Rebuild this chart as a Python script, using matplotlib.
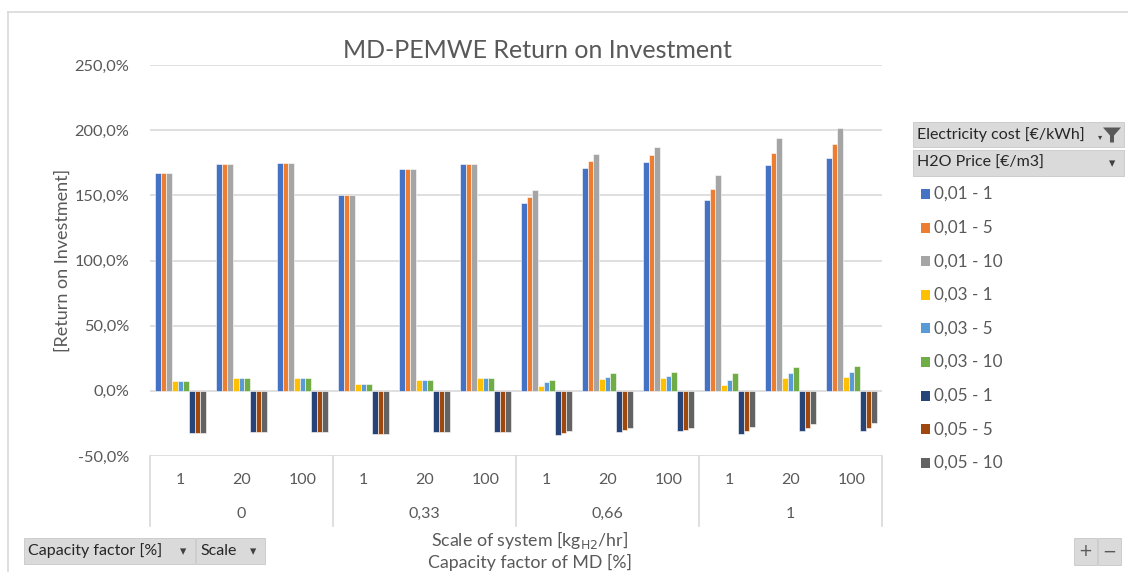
import matplotlib
matplotlib.use("Agg")
import matplotlib.pyplot as plt
from matplotlib.patches import Rectangle, Polygon
from matplotlib.lines import Line2D
import matplotlib.transforms as mtransforms
from matplotlib.ticker import FuncFormatter
import numpy as np

plt.rcParams['font.family'] = ['Lato', 'DejaVu Sans']

# categories: capacity factor of MD / scale of system
cap_factors = ['0', '0,33', '0,66', '1']
scales = ['1', '20', '100']

# legend: electricity cost - H2O price
series_names = ['0,01 - 1', '0,01 - 5', '0,01 - 10',
                '0,03 - 1', '0,03 - 5', '0,03 - 10',
                '0,05 - 1', '0,05 - 5', '0,05 - 10']

# return on investment [%], one value per (capacity factor, scale)
roi_001_1 = [167.5, 173.8, 174.8, 150.3, 170.2, 173.8, 144.5, 170.8, 175.9, 146.2, 173.3, 179.0]
roi_001_5 = [167.5, 173.8, 174.8, 150.3, 170.2, 173.8, 148.8, 176.1, 181.3, 154.9, 182.8, 189.4]
roi_001_10 = [167.5, 173.8, 174.8, 150.3, 170.2, 173.8, 153.9, 182.0, 187.1, 165.9, 194.3, 201.7]
roi_003_1 = [7.7, 9.5, 9.5, 4.9, 8.4, 9.5, 3.8, 9.2, 10.0, 4.6, 10.0, 10.7]
roi_003_5 = [7.7, 9.5, 9.5, 4.9, 8.4, 9.5, 6.4, 10.7, 11.5, 8.4, 13.6, 14.3]
roi_003_10 = [7.7, 9.5, 9.5, 4.9, 8.4, 9.5, 8.4, 13.6, 14.3, 13.6, 18.2, 19.2]
roi_005_1 = [-32.4, -31.9, -31.9, -33.2, -31.9, -31.9, -34.0, -31.9, -31.1, -33.2, -31.1, -31.1]
roi_005_5 = [-32.4, -31.9, -31.9, -33.2, -31.9, -31.9, -32.4, -30.4, -30.4, -31.1, -28.8, -28.8]
roi_005_10 = [-32.4, -31.9, -31.9, -33.2, -31.9, -31.9, -31.1, -28.8, -28.8, -28.1, -25.8, -25.0]

all_series = [roi_001_1, roi_001_5, roi_001_10, roi_003_1, roi_003_5, roi_003_10,
              roi_005_1, roi_005_5, roi_005_10]
colours = ['#4472C4', '#ED7D31', '#A5A5A5', '#FFC000', '#5B9BD5', '#70AD47',
           '#264478', '#9E480E', '#636363']

W, H = 1128, 572
txt = '#595959'
grid = '#d9d9d9'


def fx(p):
    return p / W


def fy(p):
    return 1 - p / H


fig = plt.figure(figsize=(W / 100, H / 100), dpi=100)
fig.patch.set_facecolor('white')

# chart border (top + left)
fig.add_artist(Line2D([fx(8), fx(W)], [fy(12), fy(12)], color='#d9d9d9', lw=1.2))
fig.add_artist(Line2D([fx(8), fx(8)], [fy(12), 0], color='#d9d9d9', lw=1.2))

ax_w = fx(882) - fx(150)
ax = fig.add_axes([fx(150), fy(456), ax_w, fy(65) - fy(456)])
x = np.arange(len(cap_factors) * len(scales))
w = 0.092
for j, (vals, c, name) in enumerate(zip(all_series, colours, series_names)):
    ax.bar(x + (j - 4) * w, vals, w, color=c, edgecolor='white', linewidth=0.4,
           label=name, zorder=3)

ax.set_xlim(-0.5, len(x) - 0.5)
ax.set_ylim(-50, 250)
ax.set_yticks(np.arange(-50, 251, 50))
ax.yaxis.set_major_formatter(FuncFormatter(lambda v, p: f'{v:.1f}%'.replace('.', ',')))
ax.yaxis.grid(True, color=grid, lw=1.2, zorder=0)
for s in ax.spines.values():
    s.set_visible(False)
ax.tick_params(axis='y', length=0, labelsize=11.8, labelcolor=txt, pad=15)
ax.set_xticks([])

# category table under the axis
trans = mtransforms.blended_transform_factory(ax.transData, ax.transAxes)
for i, lab in enumerate(scales * len(cap_factors)):
    ax.text(i, -0.062, lab, transform=trans, ha='center', va='center',
            fontsize=11.5, color=txt)
for g, lab in enumerate(cap_factors):
    ax.text(g * 3 + 1, -0.148, lab, transform=trans, ha='center', va='center',
            fontsize=11.5, color=txt)
for b in np.arange(-0.5, len(x), 3):
    ax.plot([b, b], [0, -0.178], transform=trans, color=grid, lw=1.2, clip_on=False)

ax.set_ylabel('[Return on Investment]', fontsize=13, color=txt)
ax.yaxis.set_label_coords((fx(71) - fx(150)) / ax_w, 0.5)

fig.text(fx(537), fy(50), 'MD-PEMWE Return on Investment', ha='center', va='center',
         fontsize=18, color=txt)
fig.text(fx(530), fy(540), 'Scale of system [kg$_{\\mathrm{H2}}$/hr]', ha='center',
         va='center', fontsize=12.8, color=txt)
fig.text(fx(530), fy(562), 'Capacity factor of MD [%]', ha='center', va='center',
         fontsize=12.8, color=txt)


def button(x0, y0, x1, y1, label, arrow=True, funnel=False):
    fig.add_artist(Rectangle((fx(x0), fy(y1)), fx(x1) - fx(x0), fy(y0) - fy(y1),
                             facecolor='#dadada', edgecolor='#c8c8c8', lw=0.6))
    fig.text(fx(x0 + 4), fy((y0 + y1) / 2), label, ha='left', va='center',
             fontsize=11.5, color='#262626')
    if arrow:
        fig.text(fx(x1 - 12), fy((y0 + y1) / 2 + 1), '▾', ha='center', va='center',
                 fontsize=9, color='#404040', family='DejaVu Sans')
    if funnel:
        cx, cy = x1 - 12, (y0 + y1) / 2
        fig.add_artist(Polygon([(fx(cx - 9), fy(cy - 7)), (fx(cx + 9), fy(cy - 7)),
                                (fx(cx + 2), fy(cy + 1)), (fx(cx + 2), fy(cy + 8)),
                                (fx(cx - 2), fy(cy + 8)), (fx(cx - 2), fy(cy + 1))],
                               closed=True, facecolor='#595959', edgecolor='none'))
        fig.text(fx(cx - 12), fy(cy + 2), '▾', ha='center', va='center',
                 fontsize=6, color='#404040', family='DejaVu Sans')


button(913, 122, 1124, 147, 'Electricity cost [€/kWh]', arrow=False, funnel=True)
button(913, 150, 1124, 176, 'H2O Price [€/m3]')
button(24, 538, 195, 564, 'Capacity factor [%]')
button(196, 538, 265, 564, 'Scale')

# + / - buttons
for x0, sym in [(1074, '+'), (1098, '−')]:
    fig.add_artist(Rectangle((fx(x0), fy(565)), fx(23), fy(538) - fy(565),
                             facecolor='#dadada', edgecolor='#c8c8c8', lw=0.6))
    fig.text(fx(x0 + 11.5), fy(551.5), sym, ha='center', va='center', fontsize=12,
             color='#595959', family='DejaVu Sans')

# legend
for j, (name, c) in enumerate(zip(series_names, colours)):
    yc = 194 + j * 33.6
    fig.add_artist(Rectangle((fx(921), fy(yc + 5)), fx(9), fy(yc - 5) - fy(yc + 5),
                             facecolor=c, edgecolor='none'))
    fig.text(fx(934), fy(yc), name, ha='left', va='center', fontsize=12.3, color=txt)

plt.savefig('out.png', dpi=100, facecolor='white')
